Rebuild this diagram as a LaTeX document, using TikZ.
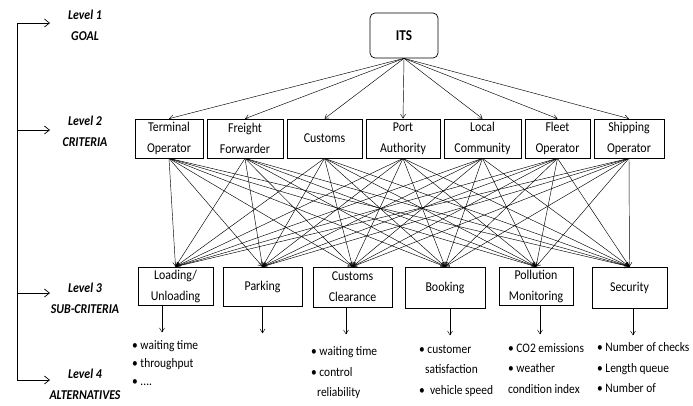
\documentclass[tikz,border=0pt]{standalone}
\usepackage{fontspec}
\setmainfont{Carlito}[FakeStretch=0.88]
\usetikzlibrary{arrows.meta}
\newcommand\hang{\hspace*{6pt}}
\begin{document}
\begin{tikzpicture}[x=1pt,y=-1pt,
  box/.style={draw,line width=0.7pt,fill=white,inner sep=0pt,align=center,
    font=\fontsize{13.5}{21}\selectfont},
  conn/.style={line width=0.45pt,-{Straight Barb[length=4pt,width=5pt]}},
  side/.style={line width=0.7pt,-{Straight Barb[length=5pt,width=8pt]}},
  lvl/.style={align=center,inner sep=0pt,font=\fontsize{13.5}{21}\selectfont\bfseries\itshape},
  lst/.style={align=left,anchor=north west,inner sep=0pt,font=\fontsize{13}{20.5}\selectfont}]
\useasboundingbox (0,0) rectangle (693,405);

% goal
\node[box,rounded corners=5pt,minimum width=68pt,minimum height=45pt,
  font=\fontsize{15}{17}\selectfont\bfseries] (its) at (404,35.5) {ITS};

% criteria
\node[box,minimum width=68pt,minimum height=39pt] (c1) at (169,138.5) {Terminal\\Operator};
\node[box,minimum width=76pt,minimum height=39pt] (c2) at (245,138.5) {Freight\\Forwarder};
\node[box,minimum width=75pt,minimum height=39pt] (c3) at (324.5,138.5) {Customs};
\node[box,minimum width=74pt,minimum height=39pt] (c4) at (403,138.5) {Port\\Authority};
\node[box,minimum width=77pt,minimum height=39pt] (c5) at (482.5,138.5) {Local\\Community};
\node[box,minimum width=65pt,minimum height=39pt] (c6) at (557.5,138.5) {Fleet\\Operator};
\node[box,minimum width=70pt,minimum height=39pt] (c7) at (629,138.5) {Shipping\\Operator};

% sub-criteria
\node[box,minimum width=75pt,minimum height=38pt] (s1) at (175.5,286) {Loading/\\Unloading};
\node[box,minimum width=79pt,minimum height=39pt] (s2) at (262.5,286.5) {Parking};
\node[box,minimum width=79pt,minimum height=40pt] (s3) at (352.5,287) {Customs\\Clearance};
\node[box,minimum width=80pt,minimum height=41pt] (s4) at (445,287.5) {Booking};
\node[box,minimum width=74pt,minimum height=38pt] (s5) at (536,286) {Pollution\\Monitoring};
\node[box,minimum width=75pt,minimum height=41pt] (s6) at (629.5,287.5) {Security};

% connectors goal -> criteria
\foreach \c in {c1,c2,c3,c4,c5,c6,c7}
  \draw[conn] (its.south) -- (\c.north);
% connectors criteria -> sub-criteria
\foreach \c in {c1,c2,c3,c4,c5,c6,c7}
  \foreach \s in {s1,s2,s3,s4,s5,s6}
    \draw[conn] (\c.south) -- (\s.north);

% down arrows
\draw[conn] ([xshift=-13.5pt]s1.south) -- ++(0,27);
\draw[conn] ([xshift=0pt]s2.south) -- ++(0,27);
\draw[conn] ([xshift=-6.5pt]s3.south) -- ++(0,27);
\draw[conn] ([xshift=5pt]s4.south) -- ++(0,27);
\draw[conn] ([xshift=4pt]s5.south) -- ++(0,29);
\draw[conn] ([xshift=3.5pt]s6.south) -- ++(0,27);

% alternatives
\node[lst,font=\fontsize{13}{18}\selectfont] (a1) at (132,340.5) {• waiting time\\• throughput\\• ....};
\node[lst] (a3) at (311,346.5) {• waiting time\\• control\\\hang reliability};
\node[lst] (a4) at (419,345) {• customer\\\hang satisfaction\\• \ vehicle speed};
\node[lst] (a5) at (508,343) {• CO2 emissions\\• weather\\condition index};
\node[lst] (a6) at (597,342.5) {• Number of checks\\• Length queue\\• Number of};

% levels bracket
\coordinate (b1) at (17,23);
\coordinate (b2) at (17,130);
\coordinate (b3) at (17,293);
\coordinate (b4) at (17,380);
\draw[line width=0.7pt] (b1) -- (b4);
\draw[side] (b1) -- ++(33,0);
\draw[side] (b2) -- ++(33,0);
\draw[side] (b3) -- ++(33,0);
\draw[side] (b4) -- ++(33,0);

\node[lvl] (l1) at (85,25.5) {Level 1\\GOAL};
\node[lvl] (l2) at (85,131.5) {Level 2\\CRITERIA};
\node[lvl] (l3) at (85,298.5) {Level 3\\SUB-CRITERIA};
\node[lvl] (l4) at (85,384) {Level 4\\ALTERNATIVES};
\end{tikzpicture}
\end{document}
